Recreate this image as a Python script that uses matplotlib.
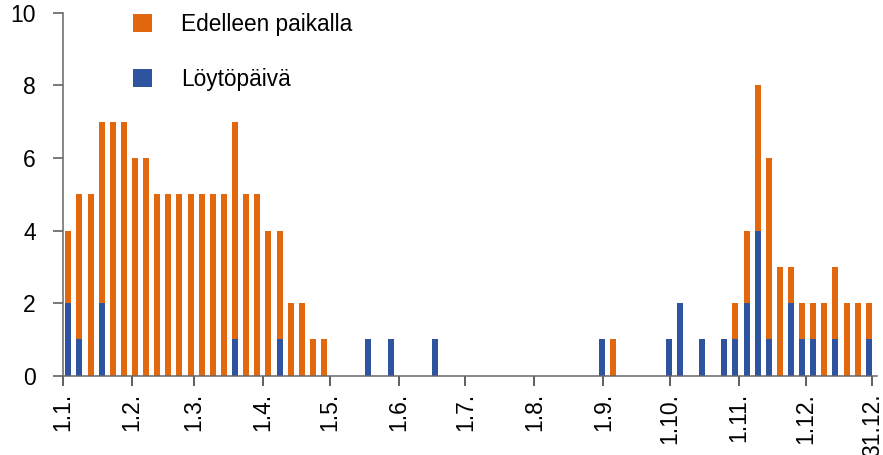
import numpy as np
import matplotlib
matplotlib.use("Agg")
import matplotlib.pyplot as plt
from matplotlib.patches import Patch

plt.rcParams['font.family'] = ['Liberation Sans', 'DejaVu Sans']

# 5-day bins through the year (73 bins, bin i starts at day 5*i)
n_bins = 73
loyto = np.zeros(n_bins, dtype=int)       # Löytöpäivä (blue, bottom)
paikalla = np.zeros(n_bins, dtype=int)    # Edelleen paikalla (orange, on top)

loyto_bins = [0, 1, 3, 15, 19, 27, 29, 33, 48, 54, 55, 57, 59, 60, 61, 62, 63, 65, 66, 67, 69, 72]
loyto_vals = [2, 1, 2, 1, 1, 1, 1, 1, 1, 1, 2, 1, 1, 1, 2, 4, 1, 2, 1, 1, 1, 1]

paikalla_bins = [0, 1, 2, 3, 4, 5, 6, 7, 8, 9, 10, 11, 12, 13, 14, 15, 16, 17, 18, 19, 20, 21, 22, 23,
                 49, 60, 61, 62, 63, 64, 65, 66, 67, 68, 69, 70, 71, 72]
paikalla_vals = [2, 4, 5, 5, 7, 7, 6, 6, 5, 5, 5, 5, 5, 5, 5, 6, 5, 5, 4, 3, 2, 2, 1, 1,
                 1, 1, 2, 4, 5, 3, 1, 1, 1, 2, 2, 2, 2, 1]

loyto[loyto_bins] = loyto_vals
paikalla[paikalla_bins] = paikalla_vals

tick_days = [0, 31, 59, 90, 120, 151, 181, 212, 243, 273, 304, 334, 364]
tick_labels = ["1.1.", "1.2.", "1.3.", "1.4.", "1.5.", "1.6.", "1.7.", "1.8.",
               "1.9.", "1.10.", "1.11.", "1.12.", "31.12."]

orange = "#E2680F"
blue = "#2E54A0"

fig = plt.figure(figsize=(8.83, 4.55), dpi=100)
ax = fig.add_axes([0.0713, 0.1743, 0.9217, 0.7977])

x = np.arange(n_bins) * 5 + 2.4
w = 2.7
ax.bar(x, loyto, width=w, color=blue, linewidth=0, zorder=2)
ax.bar(x, paikalla, width=w, bottom=loyto, color=orange, linewidth=0, zorder=2)

ax.set_xlim(0, 366)
ax.set_ylim(0, 10)
ax.set_yticks([0, 2, 4, 6, 8, 10])
ax.set_xticks(tick_days)
ax.set_xticklabels(tick_labels, rotation=90, va='top', ha='center')

for s in ['top', 'right']:
    ax.spines[s].set_visible(False)
for s in ['left', 'bottom']:
    ax.spines[s].set_color('#666666')
    ax.spines[s].set_linewidth(1.1)
    ax.spines[s].set_zorder(3)

ax.tick_params(axis='x', direction='out', length=7.5, width=1.1, color='#333333',
               labelsize=16.5, pad=5)
ax.tick_params(axis='y', direction='out', length=7.5, width=1.1, color='#555555',
               labelsize=16.5, pad=12)

handles = [Patch(facecolor=orange, edgecolor='none', label='Edelleen paikalla'),
           Patch(facecolor=blue, edgecolor='none', label='Löytöpäivä')]
leg = ax.legend(handles=handles, loc='upper left', bbox_to_anchor=(0.075, 1.025),
                frameon=False, fontsize=16.3, handlelength=0.84, handleheight=0.88,
                handletextpad=1.28, labelspacing=1.42, borderaxespad=0)

fig.savefig("out.png", dpi=100)
